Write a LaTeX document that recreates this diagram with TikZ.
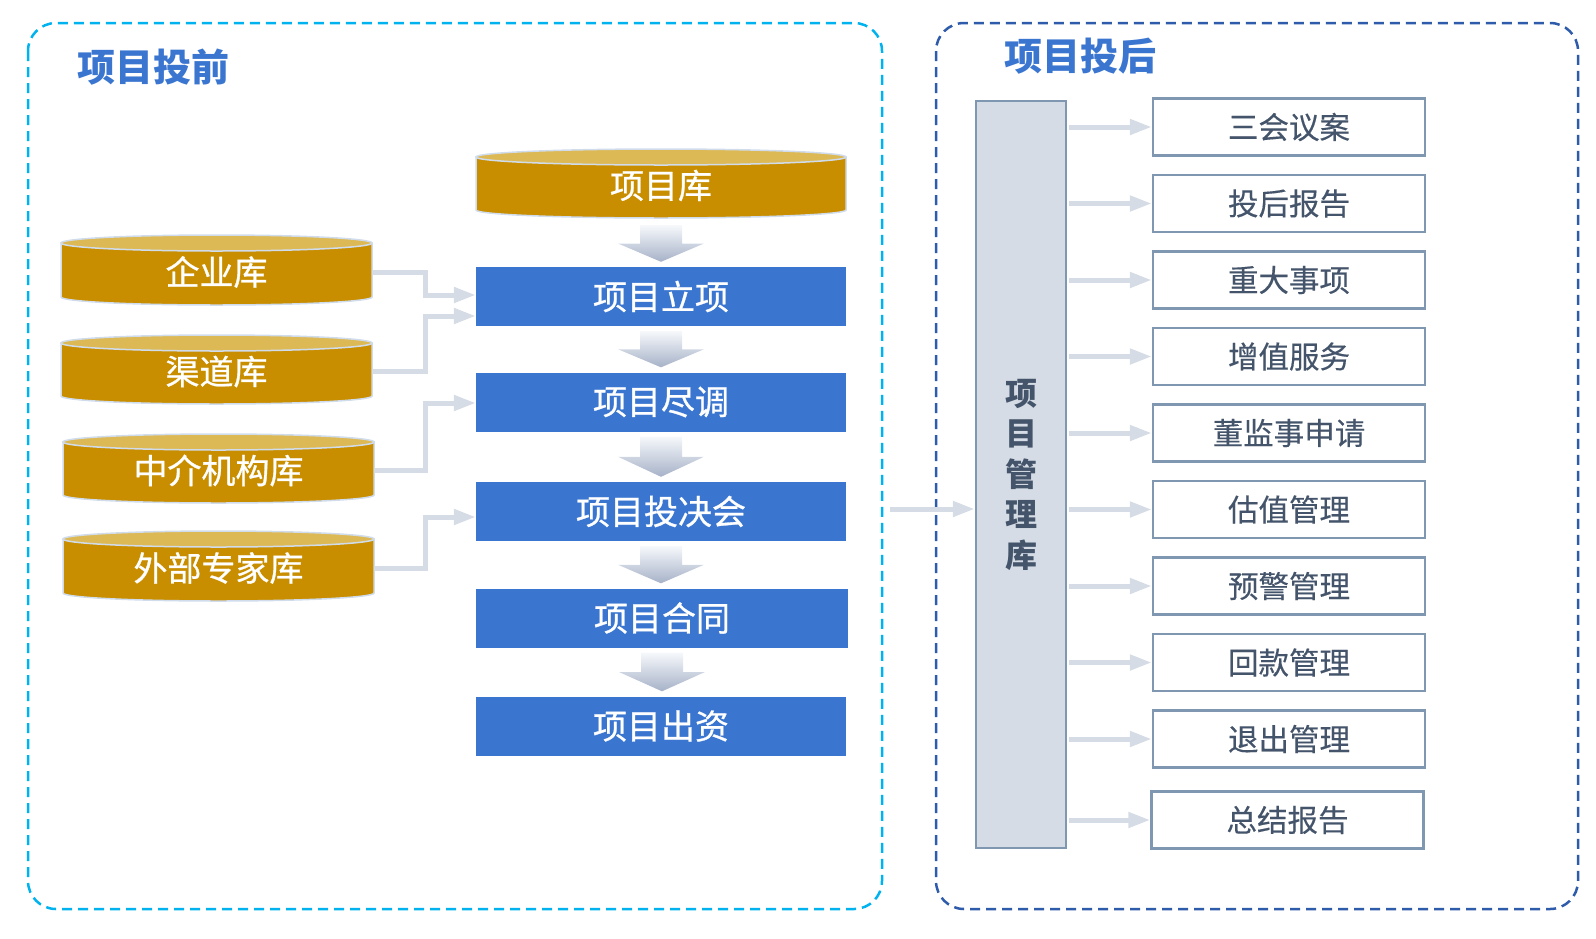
\documentclass[tikz,border=0pt]{standalone}
\usepackage{fontspec}
\setmainfont{Noto Sans CJK SC}
\newfontfamily\cjkmed[FakeBold=0.8]{Noto Sans CJK SC}
\newfontfamily\cjklight[FakeBold=0.3]{Noto Sans CJK SC}
\usetikzlibrary{arrows.meta,calc}
\definecolor{gold}{RGB}{200,142,0}
\definecolor{goldtop}{RGB}{221,185,85}
\definecolor{cyledge}{RGB}{208,220,236}
\definecolor{pblue}{RGB}{58,118,208}
\definecolor{conncol}{RGB}{214,220,229}
\definecolor{arrtop}{RGB}{246,248,251}
\definecolor{arrbot}{RGB}{166,178,200}
\definecolor{boxedge}{RGB}{128,151,178}
\definecolor{slate}{RGB}{68,84,106}
\definecolor{mgrfill}{RGB}{214,220,229}
\definecolor{cyanframe}{RGB}{0,178,238}
\definecolor{navyframe}{RGB}{46,92,170}
\definecolor{titleblue}{RGB}{58,118,208}
\tikzset{
  frameA/.style={draw=cyanframe,line width=2.5pt,dash pattern=on 10pt off 6pt,rounded corners=28pt},
  frameB/.style={draw=navyframe,line width=2.5pt,dash pattern=on 10pt off 6pt,rounded corners=28pt},
  titletext/.style={text=titleblue,font=\fontsize{38}{40}\selectfont\bfseries,inner sep=0pt},
  drumtext/.style={text=white,font=\cjkmed\fontsize{34}{36}\selectfont,inner sep=0pt},
  bluebox/.style={fill=pblue,text=white,font=\cjkmed\fontsize{34}{36}\selectfont,minimum width=370pt,minimum height=59pt,inner sep=0pt},
  conn/.style={draw=conncol,line width=5pt,-{Triangle[length=22pt,width=15pt]}},
  rbox/.style={draw=boxedge,line width=2.5pt,fill=white,text=slate,font=\cjklight\fontsize{30.5}{32}\selectfont,minimum width=272pt,minimum height=57pt,inner sep=0pt},
  mgrbox/.style={draw=boxedge,line width=2.5pt,fill=mgrfill,text=slate,font=\fontsize{32}{40.5}\selectfont\bfseries,align=center,minimum width=90pt,minimum height=747pt,inner sep=0pt},
  drumbody/.style={fill=gold,draw=cyledge,line width=1.5pt},
  drumlid/.style={fill=goldtop,draw=cyledge,line width=1.5pt}
}
% name, left, top, right, bottom, text
\newcommand\drum[6]{%
  \path[drumbody] (#2,#3+8) -- (#2,#5-8) arc[start angle=180,end angle=0,x radius={(#4-#2)/2},y radius=8] -- (#4,#3+8) -- cycle;
  \path[drumlid] ({(#2+#4)/2},#3+8) ellipse[x radius={(#4-#2)/2},y radius=8];
  \node[drumtext,minimum width={#4pt-#2pt},minimum height={#5pt-#3pt}] (#1) at ({(#2+#4)/2},{(#3+#5)/2+2}) {#6};
}
\newcommand\blockarr[2]{%
  \shade[top color=arrtop,bottom color=arrbot] let \p1=(#1.south), \p2=(#2.north) in
    (\x1-21pt,\y1-5pt) -- (\x1+21pt,\y1-5pt) -- (\x1+21pt,{(\y1+\y2)/2}) -- (\x1+43pt,{(\y1+\y2)/2})
    -- (\x1,\y2+5pt) -- (\x1-43pt,{(\y1+\y2)/2}) -- (\x1-21pt,{(\y1+\y2)/2}) -- cycle;
}
\begin{document}
\begin{tikzpicture}[x=1pt,y=-1pt]
\useasboundingbox (0,0) rectangle (1596,938);
% frames
\draw[frameA] (28,23) rectangle (882,909);
\draw[frameB] (936,23) rectangle (1578,909);
% titles
\node[titletext] (t1) at (153,67) {项目投前};
\node[titletext] (t2) at (1080,56) {项目投后};
% databases
\drum{xmk}{476}{149}{846}{218}{项目库}
\drum{qy}{61}{235}{372}{305}{企业库}
\drum{qd}{61}{335}{372}{404}{渠道库}
\drum{zj}{63}{434}{374}{503}{中介机构库}
\drum{wb}{63}{531}{374}{601}{外部专家库}
% process boxes
\node[bluebox] (lx) at (661,296.5) {项目立项};
\node[bluebox] (jd) at (661,402) {项目尽调};
\node[bluebox] (tj) at (661,511.5) {项目投决会};
\node[bluebox,minimum width=372pt] (ht) at (662,618) {项目合同};
\node[bluebox] (cz) at (661,726) {项目出资};
% block arrows
\blockarr{xmk}{lx}
\blockarr{lx}{jd}
\blockarr{jd}{tj}
\blockarr{tj}{ht}
\blockarr{ht}{cz}
% connectors from databases
\coordinate (bus) at (425,0);
\draw[conn] (qy.east) -- (qy.east -| bus) |- ([yshift=1.5pt]lx.west);
\draw[conn] (qd.east) -- (qd.east -| bus) |- ([yshift=-19.5pt]lx.west);
\draw[conn] (zj.east) -- (zj.east -| bus) |- ([yshift=-1pt]jd.west);
\draw[conn] (wb.east) -- (wb.east -| bus) |- ([yshift=-5.5pt]tj.west);
% post-investment
\node[mgrbox] (ku) at (1021,474.5) {项\\目\\管\\理\\库};
\coordinate (src) at (890,509);
\draw[conn] (src) -- (src -| ku.west);
\foreach \i/\t in {0/三会议案,1/投后报告,2/重大事项,3/增值服务,4/董监事申请,5/估值管理,6/预警管理,7/回款管理,8/退出管理}{
  \node[rbox] (r\i) at (1289,{127+76.5*\i}) {\t};
  \draw[conn,shorten <=2pt] (ku.east |- r\i.west) -- (r\i.west);
}
\node[rbox] (r9) at (1287.5,820) {总结报告};
\draw[conn,shorten <=2pt] (ku.east |- r9.west) -- (r9.west);
\end{tikzpicture}
\end{document}
